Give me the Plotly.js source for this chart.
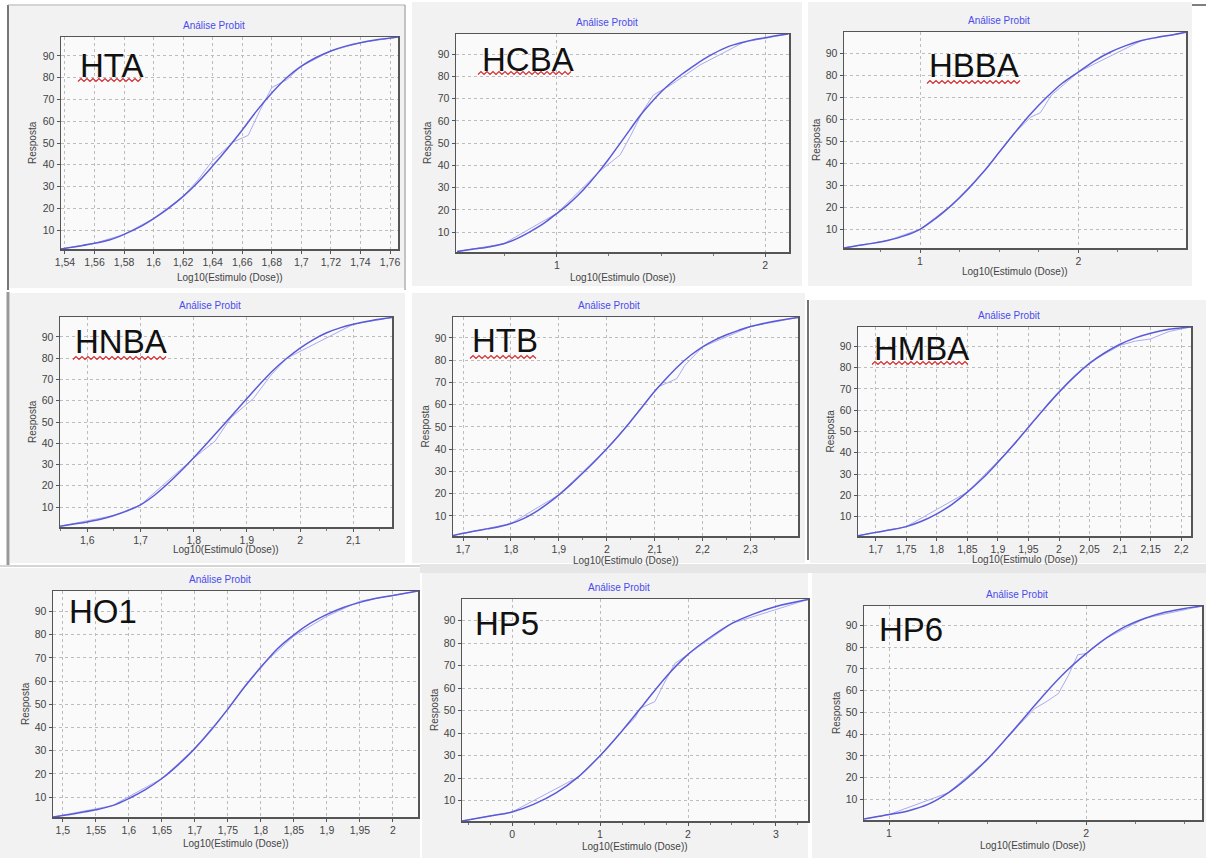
<!DOCTYPE html>
<html><head><meta charset="utf-8">
<script src="https://cdn.plot.ly/plotly-3.0.1.min.js"></script>
<style>html,body{margin:0;padding:0;background:#fff}#chart{width:1206px;height:858px}</style>
</head><body><div id="chart"></div>
<script>
// ---------------- DATA ----------------
const panelNames = ['HTA','HCBA','HBBA','HNBA','HTB','HMBA','HO1','HP5','HP6'];
const chartTitle = 'Análise Probit';
const xTitle = 'Log10(Estimulo (Dose))';
const yTitle = 'Resposta';
const yTickLabels = ['10','20','30','40','50','60','70','80','90'];

// HTA
const hta_x   = [1.537,1.55,1.56,1.57,1.58,1.59,1.60,1.61,1.62,1.63,1.64,1.65,1.66,1.67,1.68,1.69,1.70,1.71,1.72,1.73,1.74,1.75,1.766];
const hta_fit = [1.3,2.7,3.9,5.4,8.0,11.2,15.3,20,25.5,32,39.5,47.5,56,65,73,80,85.3,89.3,92.3,94.5,96.1,97.3,98.7];
const hta_ox  = [1.537,1.56,1.58,1.60,1.62,1.63,1.64,1.648,1.654,1.664,1.672,1.680,1.690,1.70,1.72,1.74,1.766];
const hta_obs = [1.3,3.9,8.0,15.3,25.5,33,42,47,50.5,53.5,65,75.5,79,85.3,92.3,96.1,98.7];
const hta_ticks = ['1,54','1,56','1,58','1,6','1,62','1,64','1,66','1,68','1,7','1,72','1,74','1,76'];

// HCBA
const hcba_x   = [0.52,0.6,0.68,0.744,0.80,0.872,0.94,1.0,1.05,1.1,1.15,1.2,1.25,1.3,1.35,1.4,1.45,1.5,1.55,1.6,1.65,1.7,1.75,1.82,1.9,1.95,2.0,2.05,2.112];
const hcba_fit = [1.3,2.4,3.5,4.8,6.8,10.3,14.2,18.5,22.2,26.5,31.5,37,43,49.5,56,62.5,68,73,77.3,81,84.3,87.5,90.2,93.3,95.5,96.6,97.4,98.3,99.1];
const hcba_ox  = [0.52,0.744,1.0,1.2,1.304,1.352,1.416,1.464,1.544,1.688,1.9,2.112];
const hcba_obs = [1.3,4.8,18.5,37,44.8,53,65,71.7,76,85.2,95.5,99.1];
const hcba_ticks = ['1','2'];

// HBBA
const hbba_x   = [0.52,0.6,0.7,0.8,0.9,1.0,1.1,1.2,1.3,1.4,1.5,1.6,1.7,1.8,1.9,2.0,2.1,2.2,2.3,2.4,2.5,2.6,2.68];
const hbba_fit = [1.5,2.5,3.6,5.0,7.0,10,15,21,28,36,45,54,62.5,70,76.5,81.5,86.5,90.5,93.5,95.8,97.3,98.5,99.6];
const hbba_ox  = [0.52,0.8,1.0,1.2,1.4,1.5,1.6,1.7,1.76,1.83,2.0,2.4,2.68];
const hbba_obs = [1.5,5,10,21,36,45,54,61,63,71,81.5,95.8,99.6];
const hbba_ticks = ['1','2'];

// HNBA
const hnba_x   = [1.549,1.575,1.6,1.625,1.65,1.675,1.7,1.725,1.75,1.775,1.8,1.825,1.85,1.875,1.9,1.925,1.95,1.975,2.0,2.025,2.05,2.075,2.1,2.135,2.173];
const hnba_fit = [1.0,2.0,3.0,4.2,6.0,8.2,11,15.3,20.7,26.7,33.2,40,47,54,61,68,74.5,80,84.8,88.8,92,94.3,96,97.8,99.2];
const hnba_ox  = [1.549,1.65,1.7,1.8,1.84,1.87,1.912,1.945,1.975,2.1,2.173];
const hnba_obs = [1.0,6,11,33,41,52,61,72,80,96,99.2];
const hnba_ticks = ['1,6','1,7','1,8','1,9','2','2,1'];

// HTB
const htb_x   = [1.679,1.70,1.725,1.75,1.775,1.80,1.825,1.85,1.875,1.90,1.925,1.95,1.975,2.0,2.025,2.05,2.075,2.10,2.125,2.15,2.175,2.20,2.225,2.25,2.275,2.30,2.35,2.399];
const htb_fit = [1.2,2.2,3.2,4.2,5.2,6.6,8.7,11.6,15.3,19.5,24.2,29.3,34.6,40.2,46.2,52.6,59.3,66,72,77.5,82.2,86,89,91.4,93.4,95.1,97.5,99.2];
const htb_ox  = [1.679,1.80,1.90,1.995,2.04,2.075,2.107,2.146,2.163,2.20,2.30,2.399];
const htb_obs = [1.2,6.6,19.5,39.2,50,59.3,68,71.7,77.7,86,95.1,99.2];
const htb_ticks = ['1,7','1,8','1,9','2','2,1','2,2','2,3'];

// HMBA
const hmba_x   = [1.671,1.70,1.725,1.75,1.775,1.80,1.825,1.85,1.875,1.90,1.925,1.95,1.975,2.0,2.025,2.05,2.075,2.10,2.125,2.15,2.18,2.216];
const hmba_fit = [1.0,2.6,3.8,5.3,7.8,11.3,15.8,21.5,28,35.5,43.5,52,60.5,68.5,75.8,82,87,91,94,96.2,98,99.1];
const hmba_ox  = [1.671,1.75,1.85,1.91,1.95,2.0,2.05,2.10,2.125,2.15,2.18,2.216];
const hmba_obs = [1.0,5.3,21.5,39,52,68.5,82.5,90.5,92.5,93.5,97,99.1];
const hmba_ticks = ['1,7','1,75','1,8','1,85','1,9','1,95','2','2,05','2,1','2,15','2,2'];

// HO1
const ho1_x   = [1.485,1.50,1.525,1.55,1.575,1.60,1.625,1.65,1.675,1.70,1.725,1.75,1.775,1.80,1.825,1.85,1.875,1.90,1.925,1.95,1.975,2.0,2.038];
const ho1_fit = [1.4,2.0,3.2,4.5,6.3,9.4,13.2,18,24,31,39,48,57.5,66,74,80,85,88.8,91.8,94,95.8,97,98.9];
const ho1_ox  = [1.485,1.575,1.65,1.70,1.725,1.75,1.80,1.85,1.90,1.95,2.038];
const ho1_obs = [1.4,6.3,18,31,39.5,48,66.5,79.5,88,94.5,98.9];
const ho1_ticks = ['1,5','1,55','1,6','1,65','1,7','1,75','1,8','1,85','1,9','1,95','2'];

// HP5
const hp5_x   = [-0.569,-0.25,0.0,0.25,0.5,0.75,1.0,1.25,1.5,1.75,2.0,2.25,2.5,2.75,3.0,3.364];
const hp5_fit = [1.0,3.2,5.0,8.5,13.5,20.5,30,41,53,65,75,82.5,88.8,93,96.3,99.4];
const hp5_ox  = [-0.569,0.0,0.75,1.0,1.25,1.40,1.453,1.623,1.718,1.851,2.0,2.5,3.364];
const hp5_obs = [1.0,5.0,20.5,30,41,47,51,54,61.4,71,75,88.8,99.4];
const hp5_ticks = ['0','1','2','3'];

// HP6
const hp6_x   = [0.873,0.95,1.0,1.1,1.2,1.3,1.4,1.5,1.6,1.7,1.8,1.9,2.0,2.1,2.2,2.3,2.4,2.5,2.588];
const hp6_fit = [1.0,2.2,3.0,4.8,7.8,13,20,28.5,38.5,49,59.5,69,77,84,89.5,93.3,96,97.8,98.9];
const hp6_ox  = [0.873,1.0,1.3,1.5,1.6,1.74,1.80,1.859,1.91,1.958,2.0,2.1,2.3,2.588];
const hp6_obs = [1.0,3.0,13,28.5,38.5,51.8,55,58.6,67,76.5,77,84,93.3,98.9];
const hp6_ticks = ['1','2'];

// ---------------- LAYOUT CONFIG ----------------
const W = 1206, H = 858;
const PX = x => x / W, PY = y => 1 - y / H;

const series = [
  [hta_x,hta_fit,hta_ox,hta_obs,hta_ticks],
  [hcba_x,hcba_fit,hcba_ox,hcba_obs,hcba_ticks],
  [hbba_x,hbba_fit,hbba_ox,hbba_obs,hbba_ticks],
  [hnba_x,hnba_fit,hnba_ox,hnba_obs,hnba_ticks],
  [htb_x,htb_fit,htb_ox,htb_obs,htb_ticks],
  [hmba_x,hmba_fit,hmba_ox,hmba_obs,hmba_ticks],
  [ho1_x,ho1_fit,ho1_ox,ho1_obs,ho1_ticks],
  [hp5_x,hp5_fit,hp5_ox,hp5_obs,hp5_ticks],
  [hp6_x,hp6_fit,hp6_ox,hp6_obs,hp6_ticks]
];

// plot boxes [left, top, right, bottom] in px
const boxes = [
  [61,37,398,249],[456,34,789,252],[844,32,1186,248],
  [60,317,392,527],[453,317,798,536],[858,327,1191,536],
  [53,591,418,817],[462,599,808,821],[864,606,1202,820]
];
const outers = [
  [9,6,404,288],[412,2,802,286],[808,2,1192,286],
  [10,293,405,563],[412,293,805,563],[810,300,1206,563],
  [0,568,420,858],[422,572,808,858],[812,572,1206,858]
];
const xRanges = [
  [1.5373,1.7654],[0.515,2.115],[0.52,2.68],
  [1.5487,2.1727],[1.679,2.399],[1.671,2.216],
  [1.485,2.038],[-0.569,3.364],[0.873,2.588]
];
const yRanges = [
  [1.3,98.7],[1.1,99.1],[1.5,99.7],
  [0.6,99.4],[1.0,99.4],[0.9,99.1],
  [1.4,98.9],[1.0,99.6],[0.5,98.9]
];
const minorDt = [null,0.25,0.25,0.05,0.05,null,null,0.25,0.25];
const xtOff = [28,25,24,22,24,23,26,25,25];
const labelPos = [[78,65],[480,59],[927,65],[73,342],[470,341],[872,348],[67,611],[473,623],[877,629]];
const squiggles = [[78,143,80],[478,573,73],[927,1020,82],[73,168,358],[470,538,357],[872,970,363]];

const FONT = 'Liberation Sans, Arial, sans-serif';
const FIT_COLOR = '#5a5ad8';
const OBS_COLOR = '#ababef';

const data = [];
const layout = {
  width: W, height: H,
  margin: {l:0, r:0, t:0, b:0},
  paper_bgcolor: '#ffffff',
  plot_bgcolor: 'rgba(0,0,0,0)',
  showlegend: false,
  font: {family: FONT, size: 10, color: '#444'},
  shapes: [], annotations: []
};

// panel backgrounds
outers.forEach(o => {
  layout.shapes.push({type:'rect', xref:'paper', yref:'paper', layer:'below',
    x0:PX(o[0]), x1:PX(o[2]), y0:PY(o[3]), y1:PY(o[1]),
    fillcolor:'#f2f2f2', line:{width:0}});
});
boxes.forEach(b => {
  layout.shapes.push({type:'rect', xref:'paper', yref:'paper', layer:'below',
    x0:PX(b[0]), x1:PX(b[2]), y0:PY(b[3]), y1:PY(b[1]),
    fillcolor:'#fafafa', line:{width:0}});
});

series.forEach((s, i) => {
  const n = i + 1;
  const xa = 'x' + (n === 1 ? '' : n), ya = 'y' + (n === 1 ? '' : n);
  const xk = 'xaxis' + (n === 1 ? '' : n), yk = 'yaxis' + (n === 1 ? '' : n);
  const [fx, fy, ox, oy, tl] = s;
  data.push({x: ox, y: oy, xaxis: xa, yaxis: ya, type: 'scatter', mode: 'lines',
    line: {color: OBS_COLOR, width: 1}, hoverinfo: 'skip'});
  data.push({x: fx, y: fy, xaxis: xa, yaxis: ya, type: 'scatter', mode: 'lines',
    line: {color: FIT_COLOR, width: 1.5, shape: 'spline', smoothing: 1}, hoverinfo: 'skip'});
  const b = boxes[i];
  const axCommon = {showline: true, mirror: true, linecolor: '#555', linewidth: 1.5,
    showgrid: true, gridcolor: '#bdbdbd', griddash: 'dot', gridwidth: 1, zeroline: false,
    ticks: 'outside', ticklen: 3, tickcolor: '#555', tickfont: {family: FONT, size: 10.5, color: '#444'},
    fixedrange: true};
  layout[xk] = Object.assign({}, axCommon, {
    domain: [PX(b[0]), PX(b[2])], anchor: ya, range: xRanges[i],
    tickmode: 'array', tickvals: tl.map(t => parseFloat(t.replace(',', '.'))), ticktext: tl
  });
  if (minorDt[i]) {
    layout[xk].minor = {tickmode: 'linear', tick0: 0, dtick: minorDt[i], ticks: 'outside', ticklen: 2, tickcolor: '#777', showgrid: false};
  }
  layout[yk] = Object.assign({}, axCommon, {
    domain: [PY(b[3]), PY(b[1])], anchor: xa, range: yRanges[i],
    tickmode: 'array', tickvals: yTickLabels.map(Number), ticktext: yTickLabels
  });
  const cx = (b[0] + b[2]) / 2, cy = (b[1] + b[3]) / 2;
  layout.annotations.push({xref:'paper', yref:'paper', x: PX(cx - 16), y: PY(b[1] - 11.5),
    text: chartTitle, showarrow: false, xanchor: 'center', yanchor: 'middle',
    font: {family: FONT, size: 10, color: '#4a4aee'}});
  layout.annotations.push({xref:'paper', yref:'paper', x: PX(cx), y: PY(b[3] + xtOff[i]),
    text: xTitle, showarrow: false, xanchor: 'center', yanchor: 'middle',
    font: {family: FONT, size: 10, color: '#444'}});
  layout.annotations.push({xref:'paper', yref:'paper', x: PX(b[0] - 28), y: PY(cy),
    text: yTitle, showarrow: false, textangle: -90, xanchor: 'center', yanchor: 'middle',
    font: {family: FONT, size: 10, color: '#444'}});
  layout.annotations.push({xref:'paper', yref:'paper', x: PX(labelPos[i][0]), y: PY(labelPos[i][1]),
    text: panelNames[i], showarrow: false, xanchor: 'left', yanchor: 'middle',
    font: {family: FONT, size: 33, color: '#111'}});
});

// red spell-check squiggles
squiggles.forEach(q => {
  let p = '';
  let k = 0;
  for (let x = q[0]; x <= q[1]; x += 3, k++) {
    const y = q[2] + (k % 2 === 0 ? 1.5 : -1.5);
    p += (k === 0 ? 'M' : 'L') + PX(x).toFixed(5) + ',' + PY(y).toFixed(5) + ' ';
  }
  layout.shapes.push({type:'path', xref:'paper', yref:'paper', path: p, line:{color:'#d42a2a', width:1.1}});
});

// composite borders
const lines = [
  [8,5,8,290,'#777',2],[8,5,405,5,'#aaa',1],[405,5,405,290,'#888',1],
  [1192,5,1206,5,'#555',1.5],
  [8,292,8,565,'#999',3],[808,300,808,560,'#444',1.5],
  [0,566,420,566,'#aaa',1]
];
lines.forEach(l => {
  layout.shapes.push({type:'line', xref:'paper', yref:'paper',
    x0:PX(l[0]), y0:PY(l[1]), x1:PX(l[2]), y1:PY(l[3]), line:{color:l[4], width:l[5]}});
});
layout.shapes.push({type:'rect', xref:'paper', yref:'paper', layer:'below',
  x0:PX(420), x1:PX(1206), y0:PY(573), y1:PY(564), fillcolor:'#e6e6e6', line:{width:0}});

Plotly.newPlot('chart', data, layout, {staticPlot: true, displayModeBar: false});
</script>
</body></html>
